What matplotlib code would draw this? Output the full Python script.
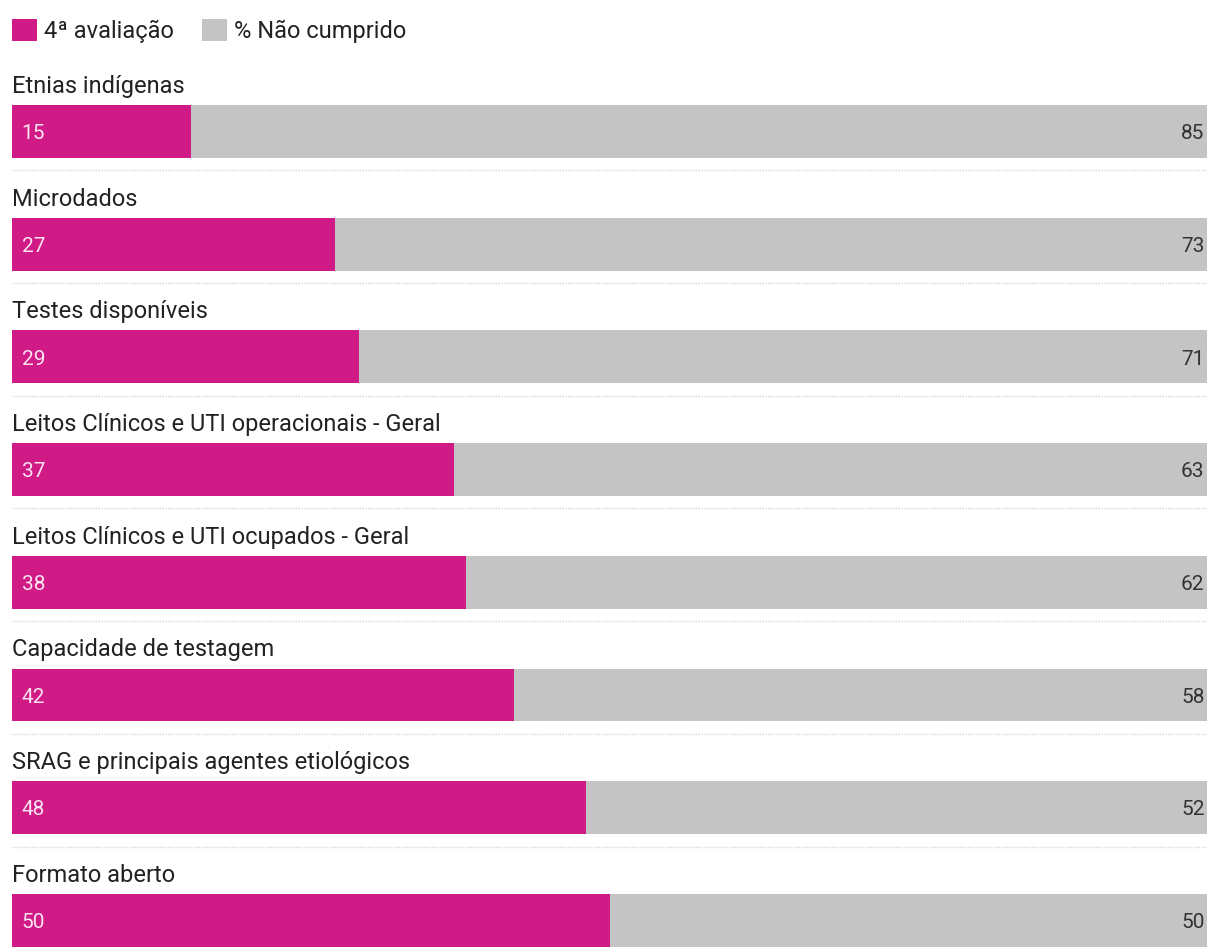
import numpy as np
import matplotlib.pyplot as plt
from matplotlib.patches import Patch

plt.rcParams['font.family'] = ['Roboto', 'DejaVu Sans']

# Data
categories = ["Etnias indígenas", "Microdados", "Testes disponíveis",
              "Leitos Clínicos e UTI operacionais - Geral",
              "Leitos Clínicos e UTI ocupados - Geral",
              "Capacidade de testagem",
              "SRAG e principais agentes etiológicos",
              "Formato aberto"]
avaliacao = [15, 27, 29, 37, 38, 42, 48, 50]
nao_cumprido = [85, 73, 71, 63, 62, 58, 52, 50]

pink = "#d01a86"
grey = "#c4c4c4"

fig = plt.figure(figsize=(12.09, 9.49), dpi=100)
ax = fig.add_axes([12 / 1209, 0, 1195 / 1209, 1])

y = np.arange(len(categories))
h = 0.47
ax.barh(y, avaliacao, height=h, color=pink, label="4ª avaliação")
ax.barh(y, nao_cumprido, left=avaliacao, height=h, color=grey, label="% Não cumprido")

for i in range(len(categories)):
    ax.text(0, y[i] - 0.40, categories[i], ha="left", va="center", fontsize=17, color="#222222")
    ax.text(0.8, y[i] + 0.02, str(avaliacao[i]), ha="left", va="center", fontsize=15, color="#fbe3f1")
    ax.text(99.8, y[i] + 0.02, str(nao_cumprido[i]), ha="right", va="center", fontsize=15, color="#333333")
    if i < len(categories) - 1:
        ax.plot([0, 100], [y[i] + 0.345] * 2, linestyle=(0, (1, 1)), color="#d6d6d6", linewidth=1)

ax.set_xlim(0, 100)
ax.set_ylim(7.254, -1.167)
ax.axis("off")

handles = [Patch(facecolor=pink, label="4ª avaliação"),
           Patch(facecolor=grey, label="% Não cumprido")]
fig.legend(handles=handles, loc="upper left", bbox_to_anchor=(12 / 1209, 1 - 19 / 949), ncol=2, frameon=False,
           fontsize=17, handlelength=1.06, handleheight=1.06, handletextpad=0.3, columnspacing=1.2,
           borderpad=0, borderaxespad=0, labelcolor="#222222")

fig.savefig("out.png", dpi=100)
